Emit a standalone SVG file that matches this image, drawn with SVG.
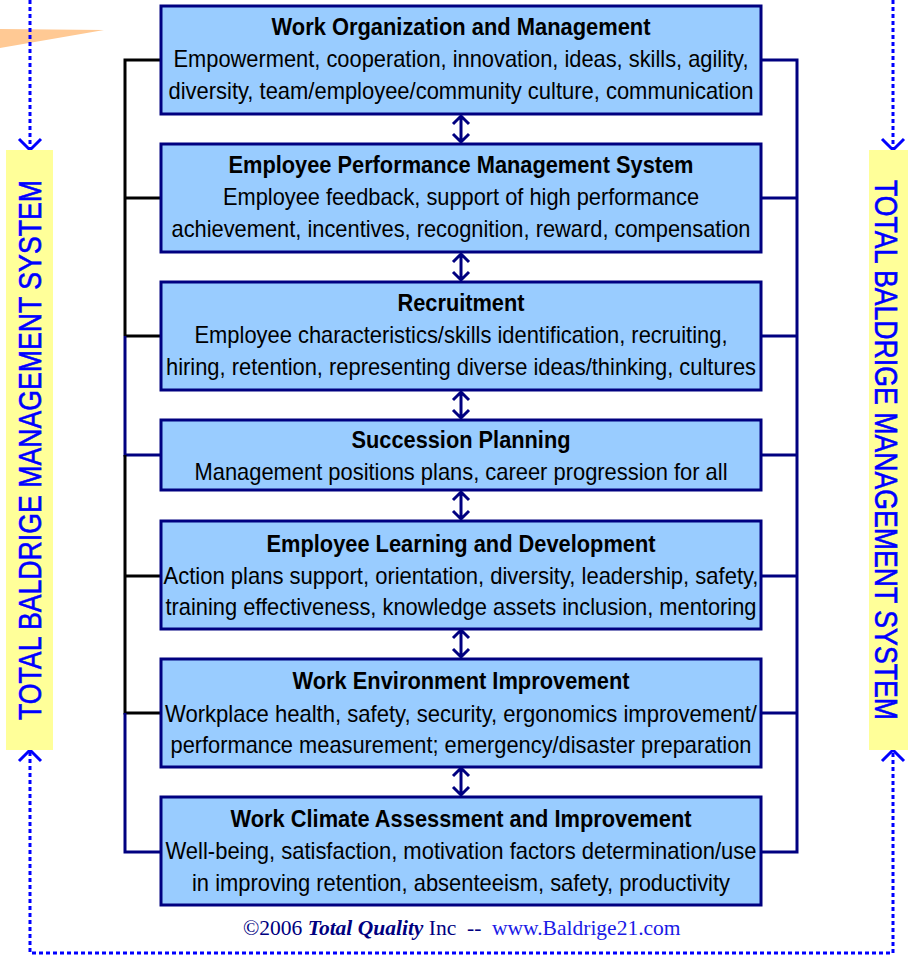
<svg xmlns="http://www.w3.org/2000/svg" width="908" height="955" viewBox="0 0 908 955">
<style>
.box{fill:#99CCFF;stroke:#000080;stroke-width:3}
.t{font-family:"Liberation Sans",Arial,sans-serif;font-size:24px;fill:#000;text-anchor:middle}
.b{font-weight:bold}
.dot{fill:none;stroke:#0000FF;stroke-width:3;stroke-dasharray:4 3}
.chev{fill:none;stroke:#0000FF;stroke-width:3}
.nav{fill:none;stroke:#000080;stroke-width:3}
.blk{fill:none;stroke:#000;stroke-width:3}
.side{font-family:"Liberation Sans",Arial,sans-serif;font-size:32px;fill:#0000FF;text-anchor:middle;stroke:#0000FF;stroke-width:0.6}
.dbl{fill:none;stroke:#000080;stroke-width:3}
</style>
<rect width="908" height="955" fill="#fff"/>
<polygon points="0,29 104,30 0,48" fill="#FFC994"/>
<g id="frame">
<path class="dot" d="M30 0 V148"/>
<path class="dot" d="M893 0 V148"/>
<path class="dot" d="M30 752 V953 H893 V752"/>
<path class="chev" d="M19 139 L30 150 L41 139"/>
<path class="chev" d="M882 139 L893 150 L904 139"/>
<path class="chev" d="M19 761 L30 750 L41 761"/>
<path class="chev" d="M882 761 L893 750 L904 761"/>
</g>
<g id="side-left">
<rect x="6" y="150" width="47" height="600" fill="#FFFF99"/>
<text class="side" transform="translate(41 450) rotate(-90)" textLength="540" lengthAdjust="spacingAndGlyphs">TOTAL BALDRIGE MANAGEMENT SYSTEM</text>
</g>
<g id="side-right">
<rect x="869" y="150" width="39" height="600" fill="#FFFF99"/>
<text class="side" transform="translate(875 450) rotate(90)" textLength="540" lengthAdjust="spacingAndGlyphs">TOTAL BALDRIGE MANAGEMENT SYSTEM</text>
</g>
<g id="connectors">
<path class="blk" d="M161 60 H125 V336 M125 198 H161 M125 336 H161"/>
<path class="nav" d="M125 336 V455 H161"/>
<path class="blk" d="M125 455 V713 H161 M125 576 H161"/>
<path class="nav" d="M125 713 V852 H161"/>
<path class="nav" d="M761 60 H797 V852 H761 M761 198 H797 M761 336 H797 M761 455 H797 M761 576 H797 M761 713 H797"/>
<path class="dbl" d="M461 116 V142 M453 124 L461 116 L469 124 M453 134 L461 142 L469 134"/>
<path class="dbl" d="M461 254 V280 M453 262 L461 254 L469 262 M453 272 L461 280 L469 272"/>
<path class="dbl" d="M461 392 V418 M453 400 L461 392 L469 400 M453 410 L461 418 L469 410"/>
<path class="dbl" d="M461 492 V519 M453 500 L461 492 L469 500 M453 511 L461 519 L469 511"/>
<path class="dbl" d="M461 630 V657 M453 638 L461 630 L469 638 M453 649 L461 657 L469 649"/>
<path class="dbl" d="M461 768 V795 M453 776 L461 768 L469 776 M453 787 L461 795 L469 787"/>
</g>
<g id="n1">
<rect class="box" x="161" y="6" width="600" height="108"/>
<text class="t b" x="461" y="35" textLength="379" lengthAdjust="spacingAndGlyphs">Work Organization and Management</text>
<text class="t" x="461" y="67" textLength="575" lengthAdjust="spacingAndGlyphs">Empowerment, cooperation, innovation, ideas, skills, agility,</text>
<text class="t" x="461" y="99" textLength="585" lengthAdjust="spacingAndGlyphs">diversity, team/employee/community culture, communication</text>
</g>
<g id="n2">
<rect class="box" x="161" y="144" width="600" height="108"/>
<text class="t b" x="461" y="173" textLength="465" lengthAdjust="spacingAndGlyphs">Employee Performance Management System</text>
<text class="t" x="461" y="205" textLength="476" lengthAdjust="spacingAndGlyphs">Employee feedback, support of high performance</text>
<text class="t" x="461" y="237" textLength="579" lengthAdjust="spacingAndGlyphs">achievement, incentives, recognition, reward, compensation</text>
</g>
<g id="n3">
<rect class="box" x="161" y="282" width="600" height="108"/>
<text class="t b" x="461" y="311" textLength="127" lengthAdjust="spacingAndGlyphs">Recruitment</text>
<text class="t" x="461" y="343" textLength="533" lengthAdjust="spacingAndGlyphs">Employee characteristics/skills identification, recruiting,</text>
<text class="t" x="461" y="375" textLength="590" lengthAdjust="spacingAndGlyphs">hiring, retention, representing diverse ideas/thinking, cultures</text>
</g>
<g id="n4">
<rect class="box" x="161" y="420" width="600" height="70"/>
<text class="t b" x="461" y="448" textLength="219" lengthAdjust="spacingAndGlyphs">Succession Planning</text>
<text class="t" x="461" y="480" textLength="533" lengthAdjust="spacingAndGlyphs">Management positions plans, career progression for all</text>
</g>
<g id="n5">
<rect class="box" x="161" y="521" width="600" height="108"/>
<text class="t b" x="461" y="552" textLength="389" lengthAdjust="spacingAndGlyphs">Employee Learning and Development</text>
<text class="t" x="461" y="584" textLength="595" lengthAdjust="spacingAndGlyphs">Action plans support, orientation, diversity, leadership, safety,</text>
<text class="t" x="461" y="615" textLength="591" lengthAdjust="spacingAndGlyphs">training effectiveness, knowledge assets inclusion, mentoring</text>
</g>
<g id="n6">
<rect class="box" x="161" y="659" width="600" height="108"/>
<text class="t b" x="461" y="689" textLength="337" lengthAdjust="spacingAndGlyphs">Work Environment Improvement</text>
<text class="t" x="461" y="722" textLength="592" lengthAdjust="spacingAndGlyphs">Workplace health, safety, security, ergonomics improvement/</text>
<text class="t" x="461" y="753" textLength="581" lengthAdjust="spacingAndGlyphs">performance measurement; emergency/disaster preparation</text>
</g>
<g id="n7">
<rect class="box" x="161" y="797" width="600" height="108"/>
<text class="t b" x="461" y="827" textLength="461" lengthAdjust="spacingAndGlyphs">Work Climate Assessment and Improvement</text>
<text class="t" x="461" y="859" textLength="591" lengthAdjust="spacingAndGlyphs">Well-being, satisfaction, motivation factors determination/use</text>
<text class="t" x="461" y="891" textLength="538" lengthAdjust="spacingAndGlyphs">in improving retention, absenteeism, safety, productivity</text>
</g>
<text x="243" y="935" font-family="'Liberation Serif','Times New Roman',serif" font-size="21.5" fill="#000080" xml:space="preserve">©2006 <tspan font-weight="bold" font-style="italic">Total Quality</tspan> Inc  --  <tspan fill="#1A1AE6">www.Baldrige21.com</tspan></text>
</svg>
